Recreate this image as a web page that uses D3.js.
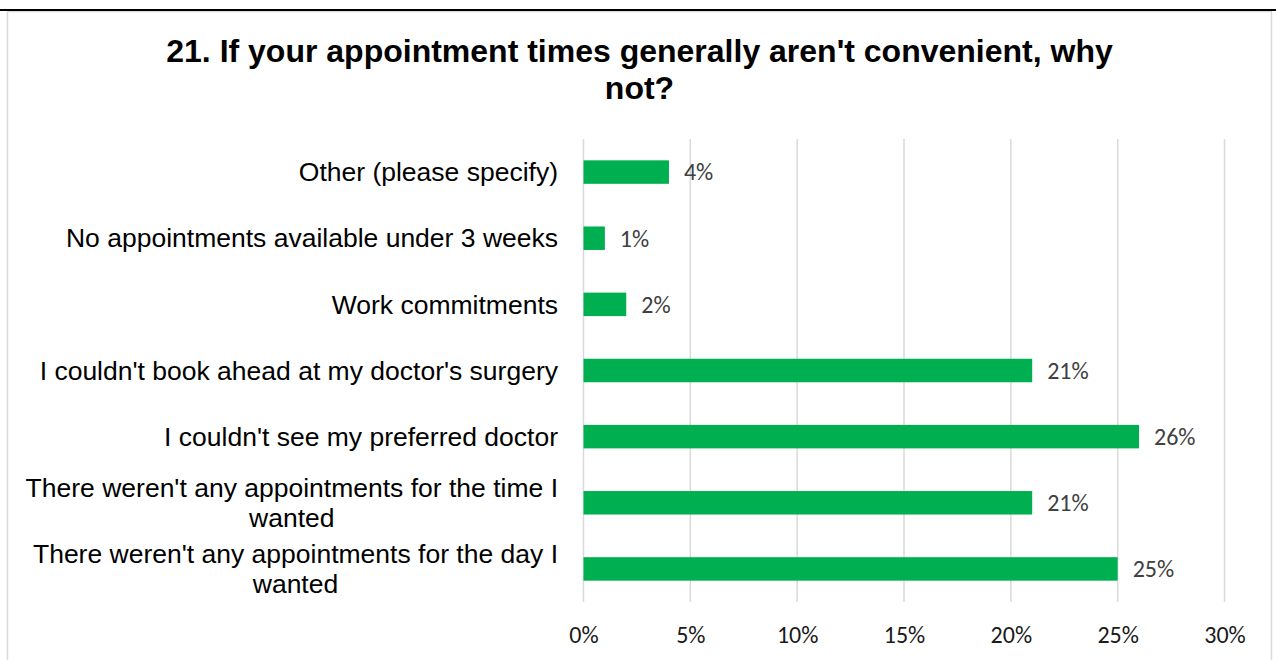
<!DOCTYPE html>
<html>
<head>
<meta charset="utf-8">
<script src="https://cdn.jsdelivr.net/npm/d3@7/dist/d3.min.js"></script>
<style>
  html, body { margin: 0; padding: 0; background: #ffffff; }
  svg { display: block; }
</style>
</head>
<body>
<svg id="chart" width="1276" height="660"></svg>
<script>
// Survey responses, top to bottom as listed
const categories = [
  "Other (please specify)",
  "No appointments available under 3 weeks",
  "Work commitments",
  "I couldn't book ahead at my doctor's surgery",
  "I couldn't see my preferred doctor",
  "There weren't any appointments for the time I wanted",
  "There weren't any appointments for the day I wanted"
];
const values = [4, 1, 2, 21, 26, 21, 25];
const tickValues = [0, 5, 10, 15, 20, 25, 30];
const titleLines = [
  "21. If your appointment times generally aren't convenient, why",
  "not?"
];

const svg = d3.select("#chart");
const W = 1276, H = 660;

// Frame: dark rule across the top and light grey box
svg.append("rect")
  .attr("x", 7.5).attr("y", 11.5)
  .attr("width", 1264).attr("height", 700)
  .attr("fill", "#ffffff")
  .attr("stroke", "#d9d9d9").attr("stroke-width", 1.5);
svg.append("line")
  .attr("x1", 0).attr("x2", W)
  .attr("y1", 10).attr("y2", 10)
  .attr("stroke", "#000").attr("stroke-width", 2);

// Title
const title = svg.append("text")
  .attr("text-anchor", "middle")
  .attr("font-family", "'Liberation Sans', Arial, sans-serif")
  .attr("font-weight", "bold")
  .attr("font-size", 32)
  .attr("fill", "#000");
titleLines.forEach((t, i) => {
  title.append("tspan").attr("x", 639.5).attr("y", 62 + i * 37).text(t);
});

// Plot area
const plot = { left: 583.5, right: 1224.5, top: 139, bottom: 602 };

const x = d3.scaleLinear()
  .domain([0, 30])
  .range([plot.left, plot.right]);

const y = d3.scaleBand()
  .domain(categories)
  .range([plot.top, plot.bottom])
  .paddingInner(0.645)
  .paddingOuter(0.3225);

// Vertical gridlines
svg.append("g")
  .selectAll("line")
  .data(tickValues)
  .join("line")
  .attr("x1", d => x(d)).attr("x2", d => x(d))
  .attr("y1", plot.top).attr("y2", plot.bottom)
  .attr("stroke", "#d9d9d9").attr("stroke-width", 1.5);

// Tick labels along the bottom
const xAxis = d3.axisBottom(x)
  .tickValues(tickValues)
  .tickFormat(d => d + "%")
  .tickSize(0)
  .tickPadding(0);
const gx = svg.append("g")
  .attr("transform", `translate(0,${plot.bottom + 24})`)
  .call(xAxis);
gx.select(".domain").remove();
gx.selectAll("text")
  .attr("font-family", "Carlito, Calibri, Lato, sans-serif")
  .attr("font-size", 24)
  .attr("fill", "#1a1a1a");

// Bars
svg.append("g")
  .selectAll("rect")
  .data(values)
  .join("rect")
  .attr("x", x(0))
  .attr("y", (d, i) => y(categories[i]))
  .attr("width", d => x(d) - x(0))
  .attr("height", y.bandwidth())
  .attr("fill", "#00b050");

// Value labels
svg.append("g")
  .selectAll("text")
  .data(values)
  .join("text")
  .attr("x", d => x(d) + 15)
  .attr("y", (d, i) => y(categories[i]) + y.bandwidth() / 2)
  .attr("dy", "0.35em")
  .attr("font-family", "Carlito, Calibri, Lato, sans-serif")
  .attr("font-size", 24)
  .attr("fill", "#404040")
  .text(d => d + "%");

// Category labels, wrapped to fit to the left of the plot
const labelRight = 558;
const maxLabelWidth = 540;
const lineHeight = 30;
const gLabels = svg.append("g")
  .attr("font-family", "'Liberation Sans', Arial, sans-serif")
  .attr("font-size", 26.5)
  .attr("fill", "#000");

categories.forEach(cat => {
  const cy = y(cat) + y.bandwidth() / 2;
  const t = gLabels.append("text").attr("text-anchor", "end");
  const words = cat.split(" ");
  const lines = [];
  let current = [];
  const probe = t.append("tspan");
  words.forEach(w => {
    const trial = current.concat(w).join(" ");
    probe.text(trial);
    if (probe.node().getComputedTextLength() > maxLabelWidth && current.length) {
      lines.push(current.join(" "));
      current = [w];
    } else {
      current.push(w);
    }
  });
  lines.push(current.join(" "));
  probe.remove();

  if (lines.length === 1) {
    t.append("tspan").attr("x", labelRight).attr("y", cy).attr("dy", "0.35em").text(lines[0]);
  } else {
    // multi-line labels: block right aligned, lines centred within it
    const tmp = t.append("tspan");
    let blockW = 0;
    lines.forEach(l => { tmp.text(l); blockW = Math.max(blockW, tmp.node().getComputedTextLength()); });
    tmp.remove();
    t.attr("text-anchor", "middle");
    const cx = labelRight - blockW / 2;
    const y0 = cy - (lines.length - 1) * lineHeight / 2;
    lines.forEach((l, i) => {
      t.append("tspan").attr("x", cx).attr("y", y0 + i * lineHeight).attr("dy", "0.35em").text(l);
    });
  }
});
</script>
</body>
</html>
